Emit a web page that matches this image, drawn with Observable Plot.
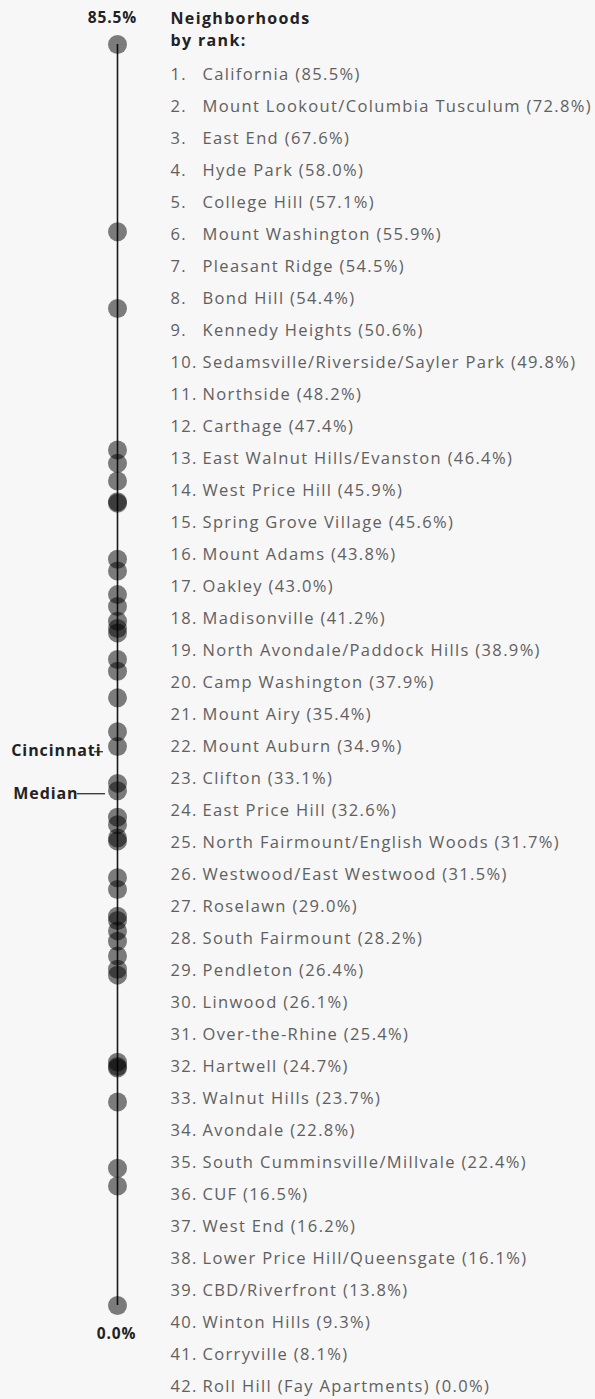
<!DOCTYPE html>
<html>
<head>
<meta charset="utf-8">
<script src="https://cdn.jsdelivr.net/npm/d3@7"></script>
<script src="https://cdn.jsdelivr.net/npm/@observablehq/plot@0.6"></script>
<style>
  html, body { margin: 0; padding: 0; background: #f7f7f7; }
  #chart { position: relative; width: 595px; height: 1399px; background: #f7f7f7; }
  #chart svg { position: absolute; left: 0; top: 0; background: transparent; }
  #chart svg.dots-layer text { letter-spacing: 0.9px; }
  #chart svg.list-layer text { letter-spacing: 1.35px; }
  #chart svg.list-layer text.hdr { letter-spacing: 1.1px; }
</style>
</head>
<body>
<div id="chart"></div>
<script>
const names = [
  "California", "Mount Lookout/Columbia Tusculum", "East End", "Hyde Park", "College Hill",
  "Mount Washington", "Pleasant Ridge", "Bond Hill", "Kennedy Heights", "Sedamsville/Riverside/Sayler Park",
  "Northside", "Carthage", "East Walnut Hills/Evanston", "West Price Hill", "Spring Grove Village",
  "Mount Adams", "Oakley", "Madisonville", "North Avondale/Paddock Hills", "Camp Washington",
  "Mount Airy", "Mount Auburn", "Clifton", "East Price Hill", "North Fairmount/English Woods",
  "Westwood/East Westwood", "Roselawn", "South Fairmount", "Pendleton", "Linwood",
  "Over-the-Rhine", "Hartwell", "Walnut Hills", "Avondale", "South Cumminsville/Millvale",
  "CUF", "West End", "Lower Price Hill/Queensgate", "CBD/Riverfront", "Winton Hills",
  "Corryville", "Roll Hill (Fay Apartments)"
];
const values = [
  85.5, 72.8, 67.6, 58.0, 57.1,
  55.9, 54.5, 54.4, 50.6, 49.8,
  48.2, 47.4, 46.4, 45.9, 45.6,
  43.8, 43.0, 41.2, 38.9, 37.9,
  35.4, 34.9, 33.1, 32.6, 31.7,
  31.5, 29.0, 28.2, 26.4, 26.1,
  25.4, 24.7, 23.7, 22.8, 22.4,
  16.5, 16.2, 16.1, 13.8, 9.3,
  8.1, 0.0
];
const cityMedian = 34.7;
const medianLabel = ["Cincinnati", "Median"];
const headerLines = ["Neighborhoods", "by rank:"];

const fmt = d3.format(".1f");
const rows = names.map((name, i) => ({rank: i + 1, name, value: values[i]}));
const ranks = rows.map(d => d.rank);
const vMax = d3.max(values), vMin = d3.min(values);

const font = "'Open Sans', sans-serif";

const dotPlot = Plot.plot({
  width: 595, height: 1399,
  marginLeft: 0, marginRight: 361, marginTop: 44, marginBottom: 94,
  className: "dots-layer",
  x: {domain: [-1, 1], axis: null},
  y: {domain: [vMin, vMax], axis: null},
  style: {background: "transparent", fontFamily: font},
  marks: [
    Plot.ruleX([0], {y1: vMin, y2: vMax, stroke: "#1a1a1a", strokeWidth: 1.6}),
    Plot.dot(rows, {x: () => 0, y: "value", r: 9.5, fill: "#000", fillOpacity: 0.5, stroke: "none"}),
    Plot.text([vMax], {x: () => 0, y: d => d, text: d => fmt(d) + "%", dy: -26, dx: -5,
      fontWeight: "bold", fontSize: 15.5, fill: "#222"}),
    Plot.text([vMin], {x: () => 0, y: d => d, text: d => fmt(d) + "%", dy: 29, dx: -1,
      fontWeight: "bold", fontSize: 15.5, fill: "#222"}),
    Plot.ruleY([cityMedian], {x1: -40 / 117, x2: -12 / 117, stroke: "#222", strokeWidth: 1.2}),
    Plot.ruleY([cityMedian], {x1: -23 / 117, x2: -14 / 117, dy: -42, stroke: "#222", strokeWidth: 1.2}),
    Plot.text([cityMedian], {x: () => 0, y: d => d, text: () => medianLabel[1], textAnchor: "end", dx: -39,
      fontWeight: "bold", fontSize: 16, fill: "#222"}),
    Plot.text([cityMedian], {x: () => 0, y: d => d, text: () => medianLabel[0], textAnchor: "end", dx: -16, dy: -43,
      fontWeight: "bold", fontSize: 16, fill: "#222"})
  ]
});

const listPlot = Plot.plot({
  width: 595, height: 1399,
  marginLeft: 170, marginRight: 0, marginTop: 70, marginBottom: 10,
  className: "list-layer",
  y: {type: "point", domain: ranks, padding: 0, axis: null},
  style: {background: "transparent", fontFamily: font},
  marks: [
    Plot.text(rows, {y: "rank", text: d => d.rank + ".", frameAnchor: "left", textAnchor: "start",
      fontSize: 16.5, fill: "#606060"}),
    Plot.text(rows, {y: "rank", text: d => `${d.name} (${fmt(d.value)}%)`, frameAnchor: "left",
      textAnchor: "start", dx: 32, fontSize: 16.5, fill: "#606060"}),
    Plot.text([headerLines[0]], {text: d => d, frameAnchor: "top-left", textAnchor: "start", lineAnchor: "middle",
      dy: -52, fontSize: 16, fontWeight: "bold", fill: "#222", className: "hdr"}),
    Plot.text([headerLines[1]], {text: d => d, frameAnchor: "top-left", textAnchor: "start", lineAnchor: "middle",
      dy: -30, fontSize: 16, fontWeight: "bold", fill: "#222", className: "hdr"})
  ]
});

const chart = document.getElementById("chart");
chart.appendChild(dotPlot);
chart.appendChild(listPlot);
</script>
</body>
</html>
